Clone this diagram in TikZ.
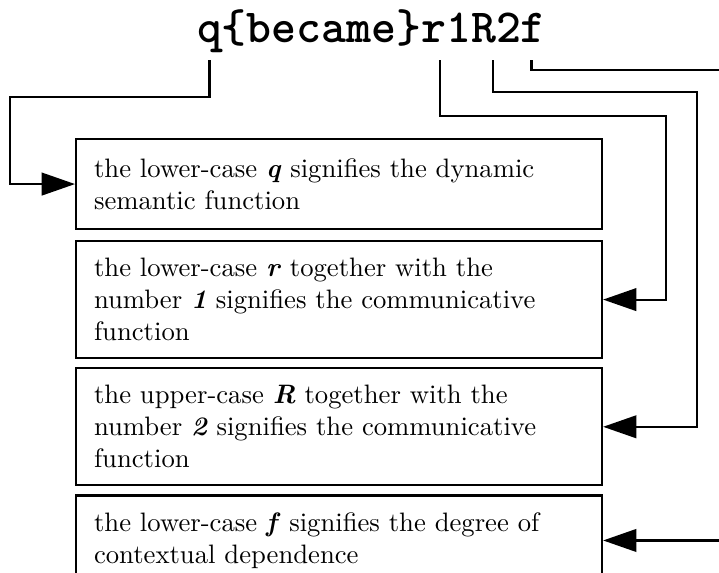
\documentclass[tikz,border=0pt]{standalone}
\usepackage{fontspec}
\usetikzlibrary{arrows.meta,positioning}

\begin{document}
\begin{tikzpicture}[
    x=0.375pt, y=-0.375pt,
    node distance=3pt,
    code/.style={
        font=\ttfamily\bfseries\fontsize{17.8}{20}\selectfont,
        inner sep=0pt,
        outer sep=0pt,
        text height=13pt,
        text depth=4.5pt
    },
    desc/.style={
        rectangle,
        draw,
        line width=0.8pt,
        text width=183.75pt,
        inner xsep=6.75pt,
        inner ysep=0pt,
        minimum height=33.75pt,
        align=left,
        font=\normalsize
    },
    wire/.style={
        line width=0.8pt,
        shorten <=1.9pt
    },
    link/.style={
        wire,
        -{Triangle[length=12.5pt,width=8.5pt]}
    }
]

% Frame of the figure
\clip (0,0) rectangle (719,573);
\coordinate (edge) at (719,0);

% Code string
\node[code, anchor=base west] (q) at (197,43) {q};
\node[code, right=0pt of q] (became) {\{became\}};
\node[code, right=0pt of became] (r1) {r1};
\node[code, right=0pt of r1] (R2) {R2};
\node[code, right=0pt of R2] (f) {f};

% Explanations
\node[desc, anchor=north west] (b1) at (75,138) {the lower-case \textbf{\textit{q}} signifies the dynamic\\semantic function};
\node[desc, minimum height=43.9pt, below=3.7pt of b1] (b2) {the lower-case \textbf{\textit{r}} together with the\\number \textbf{\textit{1}} signifies the communicative\\function};
\node[desc, minimum height=43.9pt, below=of b2] (b3) {the upper-case \textbf{\textit{R}} together with the\\number \textbf{\textit{2}} signifies the communicative\\function};
\node[desc, below=of b3] (b4) {the lower-case \textbf{\textit{f}} signifies the degree of\\contextual dependence};

% Connectors
\coordinate (fout) at (719,70);
\coordinate (fin) at (b4.east -| edge);
\draw[link] (q.south) |- (10,97) |- (b1.west);
\draw[link] ([xshift=-2.25pt]r1.south) |- (666,116) |- (b2.east);
\draw[link] ([xshift=-1pt]R2.south) |- (697,92) |- (b3.east);
\draw[wire] ([xshift=-0.7pt]f.south) |- (fout);
\draw[link, shorten <=0pt] (fin) -- (b4.east);

\end{tikzpicture}
\end{document}
